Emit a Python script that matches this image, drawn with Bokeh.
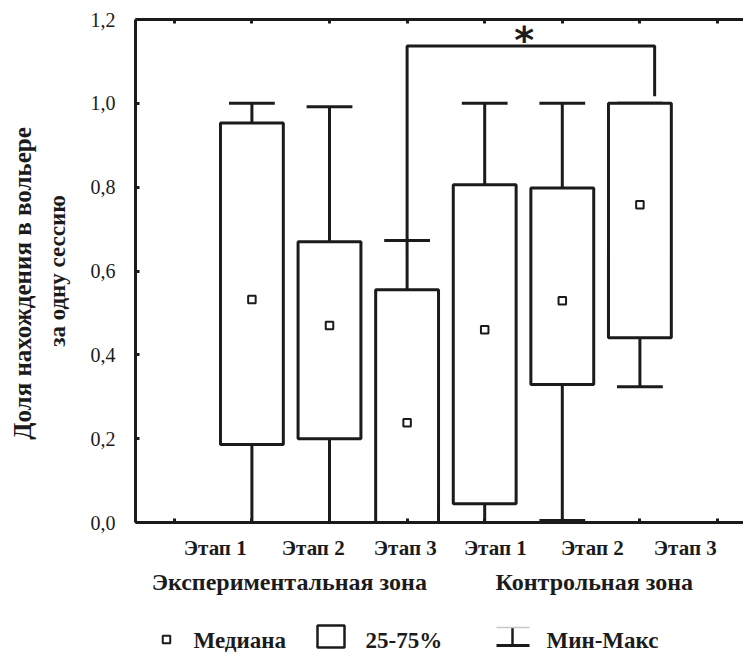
from bokeh.embed import file_html
from bokeh.layouts import column
from bokeh.models import (ColumnDataSource, CustomJSTickFormatter, FixedTicker,
                          Label, LinearAxis, Range1d)
from bokeh.plotting import figure
from bokeh.resources import INLINE

# ---- data -----------------------------------------------------------------
slots = [1, 2, 3, 4, 5, 6, 7, 8]            # category slots on the x axis
box_slots = [2, 3, 4, 5, 6, 7]              # slots that carry a box
q_max = [1.0, 0.992, 0.673, 1.0, 1.0, 1.0]
q3 = [0.953, 0.670, 0.555, 0.806, 0.798, 1.0]
median = [0.532, 0.470, 0.238, 0.460, 0.529, 0.758]
q1 = [0.186, 0.200, 0.0, 0.045, 0.329, 0.441]
q_min = [0.0, 0.0, 0.0, 0.0, 0.005, 0.324]

stage_labels = ["Этап 1", "Этап 2", "Этап 3", "Этап 1", "Этап 2", "Этап 3"]
zone_labels = ["Экспериментальная зона", "Контрольная зона"]
y_ticks = [0.0, 0.2, 0.4, 0.6, 0.8, 1.0, 1.2]
y_title = ["Доля нахождения в вольере", "за одну сессию"]
legend_labels = ["Медиана", "25-75%", "Мин-Макс"]

# significance bracket: from the 3rd box's top cap to above the 6th box
sig_from, sig_to = 2, 5
sig_level = 1.137

INK = "#1b1b1b"
SERIF = "'Liberation Serif', 'Times New Roman', serif"

# caption anchor positions along the x axis (in slot units)
stage_x = [1.528, 2.791, 3.977, 5.137, 6.387, 7.585]
zone_x = [2.482, 6.412]

# ---- main plot ------------------------------------------------------------
px_per_slot = 77.6
frame_left, fig_w = 135, 743
x_end = 0.5 + (fig_w - frame_left) / px_per_slot

p = figure(width=fig_w, height=612, x_range=Range1d(0.5, x_end),
           y_range=Range1d(0, 1.2), output_backend="svg",
           toolbar_location=None, min_border_left=frame_left,
           min_border_right=0, min_border_top=19, min_border_bottom=90,
           x_axis_location=None, y_axis_location=None)
p.outline_line_color = None
p.grid.visible = False
p.background_fill_color = "white"
p.border_fill_color = "white"

src = ColumnDataSource(dict(x=box_slots, q_max=q_max, q3=q3, median=median,
                            q1=q1, q_min=q_min))
box_w, cap_w = 0.81, 0.59
src.data["cl"] = [x - cap_w / 2 for x in box_slots]
src.data["cr"] = [x + cap_w / 2 for x in box_slots]

LW = 3
p.segment("x", "q3", "x", "q_max", source=src, line_color=INK, line_width=LW)
p.segment("x", "q1", "x", "q_min", source=src, line_color=INK, line_width=LW)
p.segment("cl", "q_max", "cr", "q_max", source=src, line_color=INK, line_width=LW)
p.segment("cl", "q_min", "cr", "q_min", source=src, line_color=INK, line_width=LW)
p.vbar(x="x", width=box_w, top="q3", bottom="q1", source=src,
       fill_color="white", line_color=INK, line_width=LW)
p.scatter("x", "median", source=src, marker="square", size=7.5,
          fill_color="white", line_color=INK, line_width=2)

# significance bracket
bx0 = box_slots[sig_from]
bx1 = box_slots[sig_to] + 0.19
p.line([bx0, bx0, bx1, bx1],
       [q_max[sig_from], sig_level, sig_level, q3[sig_to] + 0.017],
       line_color=INK, line_width=LW)
p.add_layout(Label(x=5.51, y=1.15, text="*",
                   text_font="DejaVu Sans", text_font_style="bold",
                   text_font_size="38px", text_align="center",
                   text_baseline="alphabetic", text_color=INK))


def frame_axis(axis):
    axis.axis_line_width = 3
    axis.axis_line_color = INK
    axis.major_tick_in = 4
    axis.major_tick_out = 0
    axis.major_tick_line_width = 3
    axis.major_tick_line_color = INK
    axis.minor_tick_in = 4
    axis.minor_tick_out = 0
    axis.minor_tick_line_width = 3
    axis.minor_tick_line_color = INK
    return axis


def lookup(positions, labels):
    return CustomJSTickFormatter(args=dict(pos=positions, labels=labels), code="""
        let best = 0;
        for (let i = 0; i < pos.length; i++)
            if (Math.abs(pos[i] - tick) < Math.abs(pos[best] - tick)) best = i;
        return labels[best];
    """)


# left frame line with value labels and the inner title line
yax = frame_axis(LinearAxis(ticker=FixedTicker(ticks=y_ticks, minor_ticks=[])))
yax.formatter = CustomJSTickFormatter(code="return tick.toFixed(1).replace('.', ',')")
yax.major_label_text_font = SERIF
yax.major_label_text_font_size = "20px"
yax.major_label_text_color = INK
yax.major_label_standoff = 20
yax.axis_label = y_title[1]
yax.axis_label_standoff = 18
yax.axis_label_text_font = SERIF
yax.axis_label_text_font_style = "bold"
yax.axis_label_text_font_size = "23px"
yax.axis_label_text_color = INK
p.add_layout(yax, "left")

# outer title line (trailing no-break spaces nudge it slightly downward)
yax2 = LinearAxis(ticker=FixedTicker(ticks=[], minor_ticks=[]),
                  axis_line_color=None, major_tick_line_color=None,
                  minor_tick_line_color=None)
yax2.axis_label = y_title[0] + "\u00a0" * 4
yax2.axis_label_standoff = 6
yax2.axis_label_text_font = SERIF
yax2.axis_label_text_font_style = "bold"
yax2.axis_label_text_font_size = "25px"
yax2.axis_label_text_color = INK
p.add_layout(yax2, "left")

# bottom frame line: slot pips as minor ticks, stage captions as major labels
xax = frame_axis(LinearAxis(ticker=FixedTicker(ticks=stage_x, minor_ticks=slots)))
xax.major_tick_line_color = None
xax.formatter = lookup(stage_x, stage_labels)
xax.major_label_text_font = SERIF
xax.major_label_text_font_style = "bold"
xax.major_label_text_font_size = "21px"
xax.major_label_text_color = INK
xax.major_label_standoff = 13
p.add_layout(xax, "below")

# zone captions
zax = LinearAxis(ticker=FixedTicker(ticks=zone_x, minor_ticks=[]),
                 axis_line_color=None, major_tick_line_color=None,
                 minor_tick_line_color=None)
zax.formatter = lookup(zone_x, zone_labels)
zax.major_label_text_font = SERIF
zax.major_label_text_font_style = "bold"
zax.major_label_text_font_size = "24px"
zax.major_label_text_color = INK
zax.major_label_standoff = 0
p.add_layout(zax, "below")

# top frame line with slot pips only
tax = frame_axis(LinearAxis(ticker=FixedTicker(ticks=[], minor_ticks=slots)))
p.add_layout(tax, "above")

# ---- legend strip ---------------------------------------------------------
leg = figure(width=fig_w, height=40, x_range=Range1d(frame_left, fig_w),
             y_range=Range1d(40, 0), output_backend="svg",
             toolbar_location=None, min_border=0, min_border_left=frame_left,
             min_border_right=0, x_axis_location=None, y_axis_location=None)
leg.outline_line_color = None
leg.grid.visible = False

leg.scatter([166], [27], marker="square", size=7.5, fill_color="white",
            line_color=INK, line_width=2)
leg.quad(left=[317], right=[344], top=[13], bottom=[35], fill_color="white",
         line_color=INK, line_width=2.5)
leg.segment([512], [15], [512], [33], line_color=INK, line_width=2.5)
leg.segment([496], [33], [529], [33], line_color=INK, line_width=3)
leg.segment([496], [15], [529], [15], line_color="#c8c8c8", line_width=1.5)
leg.text(x=[193, 365, 546], y=[28, 28, 28], text=legend_labels,
         text_font=SERIF, text_font_style="bold", text_font_size="23px",
         text_baseline="alphabetic", text_color=INK)

open("out.html", "w").write(file_html(column(p, leg), INLINE))
